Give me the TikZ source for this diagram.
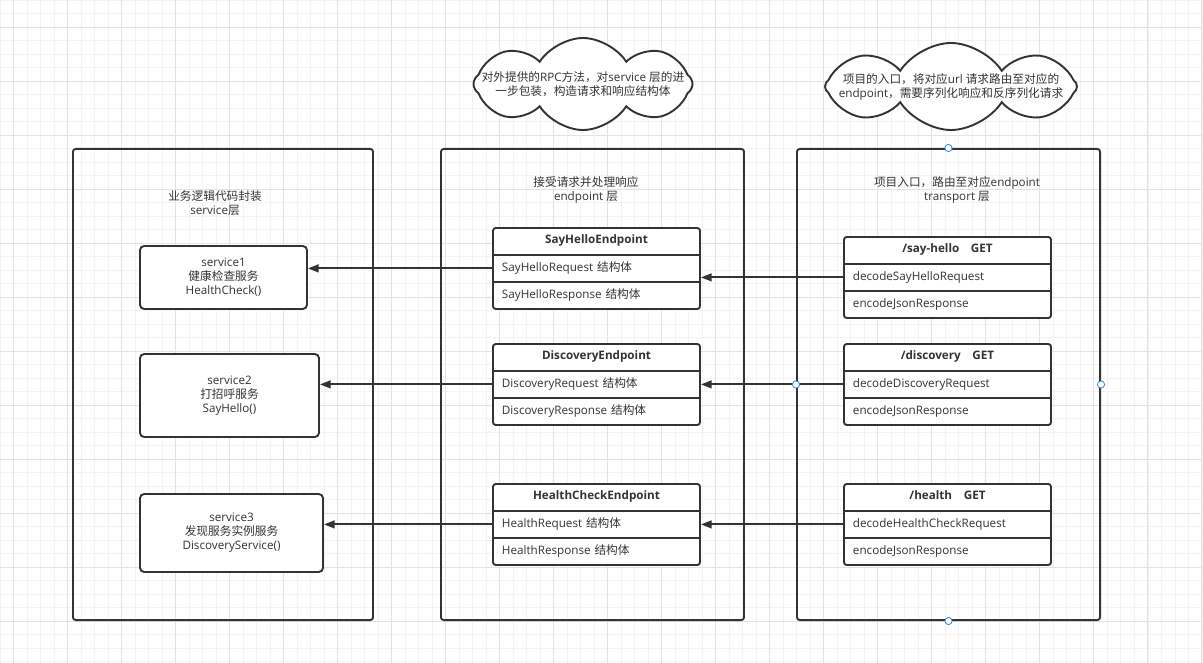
\documentclass[tikz,border=0pt]{standalone}
\usepackage{fontspec}
\setmainfont{Open Sans}
\newfontfamily\cjk{Noto Sans CJK SC}
\usetikzlibrary{positioning, arrows.meta, shapes.symbols}
\definecolor{ink}{HTML}{333333}
\definecolor{grid-minor}{HTML}{F3F3F3}
\definecolor{grid-major}{HTML}{E3E3E3}
\definecolor{handle-blue}{HTML}{2F86EB}
\newcommand{\zh}[1]{{\cjk #1}}

\tikzset{
  layer/.style={draw=ink, line width=1.35pt, rounded corners=2pt, minimum height=11.775cm, inner sep=0pt},
  title/.style={text=ink, align=center, inner sep=0pt},
  cloudbox/.style={cloud, draw=ink, fill=white, line width=1.35pt, cloud puffs=8, cloud puff arc=115, cloud ignores aspect, inner sep=0pt},
  svcbox/.style={draw=ink, fill=white, line width=1.35pt, rounded corners=3pt, align=center, text=ink, inner sep=0pt},
  tblframe/.style={draw=ink, fill=white, line width=1.35pt, rounded corners=2pt, minimum width=5.175cm, minimum height=2.025cm, inner sep=0pt},
  tblhead/.style={minimum width=5.175cm, minimum height=0.675cm, inner sep=0pt, text height=2.2mm, text depth=0.7mm, text=ink, font=\bfseries},
  tblrow/.style={minimum height=0.675cm, inner xsep=0.225cm, inner ysep=0pt, text width=4.725cm, align=left, text height=2.2mm, text depth=0.7mm, text=ink},
  tblline/.style={draw=ink, line width=1.35pt},
  flow/.style={draw=ink, line width=1.35pt, -{Triangle[length=7.5pt, width=5.5pt]}},
  handle/.style={draw=handle-blue, fill=white, line width=0.6pt}
}

\begin{document}
\fontsize{8.3pt}{9.9pt}\selectfont
\begin{tikzpicture}[x=0.025cm, y=-0.025cm]
  % background grid
  \clip (0,0) rectangle (1203,663);
  \begin{scope}[x=1cm, y=1cm]
    \draw[grid-minor, line width=0.4pt, step=0.3375] (0,-16.575) grid (30.075,0);
    \draw[grid-major, line width=0.5pt, shift={(0.3375,-0.675)}, step=1.35] (-1.35,-16.2) grid (29.7,0.675);
  \end{scope}

  % notes
  \node[cloudbox, minimum width=5.475cm, minimum height=2.3cm] (cloud-ep) at (583,84) {};
  \node[title] (note-ep) at (cloud-ep.center) {\zh{对外提供的}RPC\zh{方法，对}service \zh{层的进}\\\zh{一步包装，构造请求和响应结构体}};
  \node[cloudbox, minimum width=6.3cm, minimum height=2.175cm] (cloud-tp) at (951,86.5) {};
  \node[title] (note-tp) at (cloud-tp.center) {\zh{项目的入口，将对应}url \zh{请求路由至对应的}\\endpoint\zh{，需要序列化响应和反序列化请求}};

  % layers
  \node[layer, minimum width=7.5cm] (svc-layer) at (223,384.5) {};
  \node[layer, minimum width=7.575cm] (ep-layer) at (592.5,384.5) {};
  \node[layer, minimum width=7.575cm] (tp-layer) at (948.5,384.5) {};
  \node[title] (svc-title) at (215,203) {\zh{业务逻辑代码封装}\\service\zh{层}};
  \node[title] (ep-title) at (586,190) {\zh{接受请求并处理响应}\\endpoint \zh{层}};
  \node[title] (tp-title) at (957,190) {\zh{项目入口，路由至对应}endpoint\\transport \zh{层}};

  % service layer
  \node[svcbox, minimum width=4.175cm, minimum height=1.575cm] (svc1) at (223.5,277.5) {service1\\\zh{健康检查服务}\\HealthCheck()};
  \node[svcbox, minimum width=4.475cm, minimum height=2.075cm] (svc2) at (229.5,395.5) {service2\\\zh{打招呼服务}\\SayHello()};
  \node[svcbox, minimum width=4.575cm, minimum height=1.95cm] (svc3) at (231.5,533) {service3\\\zh{发现服务实例服务}\\DiscoveryService()};

  % endpoint layer
  \node[tblframe] (ep1) at (596.5,268.5) {};
  \node[tblhead, below=0pt of ep1.north] (ep1-name) {SayHelloEndpoint};
  \node[tblrow, below=0pt of ep1-name] (ep1-req) {SayHelloRequest \zh{结构体}};
  \node[tblrow, below=0pt of ep1-req] (ep1-resp) {SayHelloResponse \zh{结构体}};
  \draw[tblline] (ep1-name.south west) -- (ep1-name.south east);
  \draw[tblline] (ep1-req.south west) -- (ep1-req.south east);

  \node[tblframe] (ep2) at (596.5,384.5) {};
  \node[tblhead, below=0pt of ep2.north] (ep2-name) {DiscoveryEndpoint};
  \node[tblrow, below=0pt of ep2-name] (ep2-req) {DiscoveryRequest \zh{结构体}};
  \node[tblrow, below=0pt of ep2-req] (ep2-resp) {DiscoveryResponse \zh{结构体}};
  \draw[tblline] (ep2-name.south west) -- (ep2-name.south east);
  \draw[tblline] (ep2-req.south west) -- (ep2-req.south east);

  \node[tblframe] (ep3) at (596.5,524.5) {};
  \node[tblhead, below=0pt of ep3.north] (ep3-name) {HealthCheckEndpoint};
  \node[tblrow, below=0pt of ep3-name] (ep3-req) {HealthRequest \zh{结构体}};
  \node[tblrow, below=0pt of ep3-req] (ep3-resp) {HealthResponse \zh{结构体}};
  \draw[tblline] (ep3-name.south west) -- (ep3-name.south east);
  \draw[tblline] (ep3-req.south west) -- (ep3-req.south east);

  % transport layer
  \node[tblframe] (tp1) at (947.5,277.5) {};
  \node[tblhead, below=0pt of tp1.north] (tp1-name) {/say-hello\quad GET};
  \node[tblrow, below=0pt of tp1-name] (tp1-req) {decodeSayHelloRequest};
  \node[tblrow, below=0pt of tp1-req] (tp1-resp) {encodeJsonResponse};
  \draw[tblline] (tp1-name.south west) -- (tp1-name.south east);
  \draw[tblline] (tp1-req.south west) -- (tp1-req.south east);

  \node[tblframe] (tp2) at (947.5,384.5) {};
  \node[tblhead, below=0pt of tp2.north] (tp2-name) {/discovery\quad GET};
  \node[tblrow, below=0pt of tp2-name] (tp2-req) {decodeDiscoveryRequest};
  \node[tblrow, below=0pt of tp2-req] (tp2-resp) {encodeJsonResponse};
  \draw[tblline] (tp2-name.south west) -- (tp2-name.south east);
  \draw[tblline] (tp2-req.south west) -- (tp2-req.south east);

  \node[tblframe] (tp3) at (947.5,524.5) {};
  \node[tblhead, below=0pt of tp3.north] (tp3-name) {/health\quad GET};
  \node[tblrow, below=0pt of tp3-name] (tp3-req) {decodeHealthCheckRequest};
  \node[tblrow, below=0pt of tp3-req] (tp3-resp) {encodeJsonResponse};
  \draw[tblline] (tp3-name.south west) -- (tp3-name.south east);
  \draw[tblline] (tp3-req.south west) -- (tp3-req.south east);

  % calls
  \draw[flow] (tp1-req.west) -- (tp1-req.west -| ep1.east);
  \draw[flow] (tp2-req.west) -- (tp2-req.west -| ep2.east);
  \draw[flow] (tp3-req.west) -- (tp3-req.west -| ep3.east);
  \draw[flow] (ep1-req.west) -- (ep1-req.west -| svc1.east);
  \draw[flow] (ep2-req.west) -- (ep2-req.west -| svc2.east);
  \draw[flow] (ep3-req.west) -- (ep3-req.west -| svc3.east);

  % selection handles
  \foreach \side in {north, west, east, south}
    \draw[handle] (tp-layer.\side) circle[radius=0.09cm];
\end{tikzpicture}
\end{document}
